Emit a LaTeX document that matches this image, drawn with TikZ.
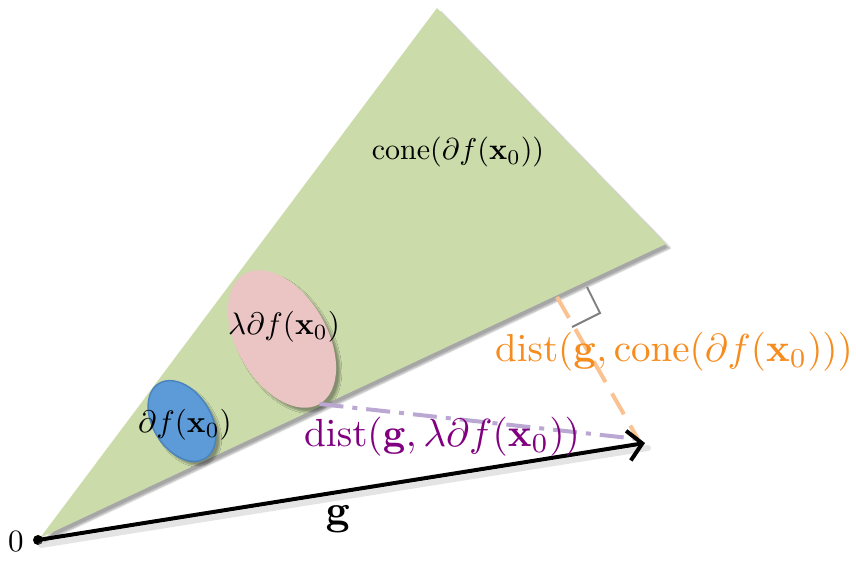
\documentclass[tikz,border=0pt]{standalone}
\usepackage{amsmath}
\usetikzlibrary{arrows.meta,shapes.geometric,shadows.blur}
\definecolor{conegreen}{HTML}{CBDBAA}
\definecolor{pinkell}{HTML}{EBC4C4}
\definecolor{blueell}{HTML}{5D9BD8}
\definecolor{blueedge}{HTML}{4A84BE}
\definecolor{distorange}{HTML}{F78C1E}
\definecolor{lineorange}{HTML}{FAC291}
\definecolor{distpurple}{HTML}{800080}
\definecolor{linepurple}{HTML}{BAA8D2}
\tikzset{
  softshadow/.style={blur shadow={shadow xshift=4pt,shadow yshift=-4pt,shadow blur steps=6,shadow opacity=35}},
  lbl/.style={inner sep=0pt},
  blob/.style={ellipse,inner sep=0pt,outer sep=0pt},
}
\begin{document}
\begin{tikzpicture}[x=1pt,y=1pt]
\useasboundingbox (0,0) rectangle (856,-560);
% cone
\coordinate (O) at (40,-538);
\coordinate (A) at (437,-8);
\coordinate (B) at (666,-244);
\fill[conegreen,softshadow] (O) -- (A) -- (B) -- cycle;
% ellipses
\node[blob,fill=pinkell,minimum width=150pt,minimum height=90pt,rotate=-60,softshadow] (lam) at (282,-339) {};
\node[blob,fill=blueell,draw=blueedge,line width=1.5pt,minimum width=88pt,minimum height=58pt,rotate=-58,softshadow] (sub) at (182,-421) {};
% labels in cone
\node[lbl,scale=3] (conelbl) at (458,-152) {$\mathrm{cone}(\partial f(\mathbf{x}_0))$};
\node[lbl,scale=3.1] (laml) at (284,-327) {$\lambda\partial f(\mathbf{x}_0)$};
\node[lbl,scale=3.1] (subl) at (185,-425) {$\partial f(\mathbf{x}_0)$};
% points
\node[circle,fill=black,inner sep=0pt,minimum size=10pt] (zero) at (38,-540) {};
\node[lbl,scale=3.1] (zerol) at (16,-542) {$0$};
\coordinate (G) at (645,-443);
\coordinate (Gd) at (638,-439);
\coordinate (F) at (557,-297);
% distance lines
\draw[linepurple,line width=4pt,dash pattern=on 24pt off 9pt on 5pt off 9pt] (lam.east) -- (Gd);
\draw[lineorange,line width=4pt,dash pattern=on 24pt off 13pt] (F) -- (Gd);
% right angle marker
\coordinate (R1) at (587,-287);
\coordinate (R2) at (600,-313);
\coordinate (R3) at (572,-327);
\draw[gray,line width=2pt] (R1) -- (R2) -- (R3);
% vector g
\draw[black!30,opacity=0.35,line width=6pt,line cap=round] ([shift={(3pt,-5pt)}]zero.center) -- ([shift={(3pt,-5pt)}]G);
\draw[line width=4pt,line cap=round,-{Straight Barb[length=14pt,width=30pt,line width=4pt]}] (zero.center) -- (G);
\node[lbl,scale=4.2] (gl) at (338,-519) {$\mathbf{g}$};
% distance labels
\node[lbl,scale=3.9,text=distorange] (dc) at (674,-352) {$\mathrm{dist}(\mathbf{g},\mathrm{cone}(\partial f(\mathbf{x}_0)))$};
\node[lbl,scale=3.92,text=distpurple] (dl) at (442,-437) {$\mathrm{dist}(\mathbf{g},\lambda\partial f(\mathbf{x}_0))$};
\end{tikzpicture}
\end{document}
